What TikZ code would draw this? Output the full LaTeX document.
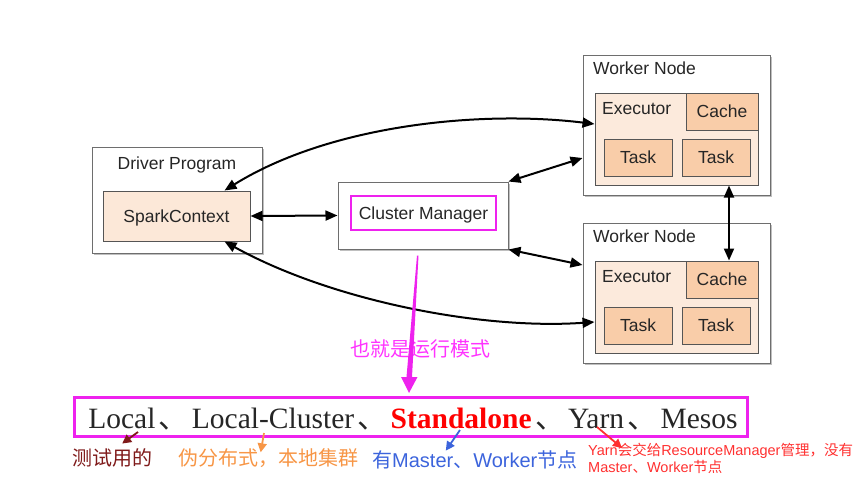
\documentclass[tikz,border=0pt]{standalone}
\usepackage{fontspec}
\setmainfont{Liberation Sans}
\newfontfamily\cjk{Noto Sans CJK SC}
\newfontfamily\timesfont{Liberation Serif}
\usetikzlibrary{positioning,calc,arrows.meta,shadows}

\definecolor{boxline}{HTML}{555555}
\definecolor{sparkfill}{HTML}{FCE8D8}
\definecolor{execfill}{HTML}{FCEADC}
\definecolor{taskfill}{HTML}{F9CDA9}
\definecolor{hlmag}{HTML}{EE22EE}
\definecolor{txtmag}{HTML}{FF33FF}
\definecolor{annmaroon}{HTML}{7F1A1A}
\definecolor{annorange}{HTML}{F79646}
\definecolor{annblue}{HTML}{3C64DC}
\definecolor{annred}{HTML}{FF3030}

\newcommand{\dunhao}{\hspace{3.5pt}{\cjk 、}\hspace{3.5pt}}

\begin{document}
\begin{tikzpicture}[x=1pt,y=-1pt,
    >={Triangle[length=12pt,width=10pt]},
    every node/.style={inner sep=0pt,font=\fontsize{17.5}{20}\selectfont,text=black!85},
    boxtext/.style={text height=12.5pt,text depth=0pt},
    outer/.style={draw=boxline!85,line width=1pt,fill=white,
        drop shadow={shadow xshift=1.5pt,shadow yshift=-1.5pt,opacity=.25,fill=black}},
    execbox/.style={draw=boxline,line width=1pt,fill=execfill,boxtext},
    taskbox/.style={draw=boxline,line width=1pt,fill=taskfill,boxtext},
    link/.style={line width=2pt,<->},
    ann/.style={font=\cjk\fontsize{20}{24}\selectfont,anchor=west},
    annarrow/.style={line width=1.8pt,-{Triangle[length=9pt,width=9pt]}}]
    \useasboundingbox (0,0) rectangle (859,480);

    % driver side
    \node[outer,minimum width=170pt,minimum height=106pt] (driver) at (177,200) {};
    \node[boxtext] (drivertxt) at (177,163) {Driver Program};
    \node[execbox,fill=sparkfill,minimum width=147pt,minimum height=50pt] (spark) at (176.5,216) {SparkContext};

    \node[outer,minimum width=170pt,minimum height=67pt] (cm) at (423,215.5) {};
    \node[draw=hlmag,line width=2.5pt,minimum width=145pt,minimum height=34pt,boxtext] (cmtxt) at (423.5,213) {Cluster Manager};

    % the two workers
    \foreach \w/\dy in {1/0,2/168}{
        \node[outer,minimum width=187pt,minimum height=140pt] (worker\w) at (676.5,125+\dy) {};
        \node[anchor=west,boxtext] (workertxt\w) at (593,68.5+\dy) {Worker Node};
        \node[execbox,minimum width=163pt,minimum height=92pt] (exec\w) at (676.5,139+\dy) {};
        \node[anchor=west,boxtext] (exectxt\w) at (602,108.5+\dy) {Executor};
        \node[taskbox,minimum width=72pt,minimum height=37pt] (cache\w) at (722,111.5+\dy) {Cache};
        \node[taskbox,minimum width=68pt,minimum height=37pt] (taskA\w) at (638,157.5+\dy) {Task};
        \node[taskbox,minimum width=68pt,minimum height=37pt] (taskB\w) at (716,157.5+\dy) {Task};
    }

    \draw[link] (spark.east) -- (cm.west);
    \draw[link] (cm.north east) -- ([yshift=-33pt]worker1.west);
    \draw[link] (cm.south east) -- ([yshift=28pt]worker2.west);
    \draw[link] ([xshift=7pt]cache2.north |- exec1.south) -- ([xshift=7pt]cache2.north);
    \draw[link] ([xshift=48pt]spark.north) .. controls (330,125) and (480,110) .. ([yshift=15pt]exec1.west);
    \draw[link] ([xshift=48pt]spark.south) .. controls (330,300) and (480,330) .. ([yshift=-15pt]exec2.west);

    % run modes
    \node[draw=hlmag,line width=3pt,minimum width=673pt,minimum height=39pt] (modes) at (411,417) {};
    \node[anchor=base] (modestxt) at (413,428) {\timesfont\fontsize{29.5}{32}\selectfont
        Local\dunhao Local-Cluster\dunhao\textcolor{red}{\bfseries Standalone}\dunhao Yarn\dunhao Mesos};

    \node[ann,text=txtmag] (modelbl) at (350,349) {也就是运行模式};
    \coordinate (mt) at ([xshift=-6pt,yshift=-6pt]cm.south);
    \coordinate (mb) at ([xshift=-2pt,yshift=3pt]modes.north);
    \fill[hlmag] (mt) -- ($(mt)+(1.5,0)$) -- ($(mb)+(3,-16)$) -- ($(mb)+(8.5,-16)$) -- (mb)
        -- ($(mb)+(-8,-16)$) -- ($(mb)+(-2.5,-16)$) -- cycle;

    % notes under the modes
    \node[ann,text=annmaroon] (test) at (72,458) {测试用的};
    \node[ann,text=annorange] (pseudo) at (178,458) {伪分布式，本地集群};
    \node[ann,text=annblue,font=\fontsize{20}{24}\selectfont] (master) at (372,460) {{\cjk 有}Master{\cjk 、}Worker{\cjk 节点}};
    \node[anchor=north west,align=left,text=annred,font=\fontsize{14.5}{17}\selectfont] (yarn) at (588,443)
        {Yarn{\cjk 会交给}ResourceManager{\cjk 管理，没有}\\Master{\cjk 、}Worker{\cjk 节点}};

    \coordinate (p1) at (138,432);
    \coordinate (p2) at (264,433);
    \coordinate (p3) at (460,430);
    \coordinate (p4) at (597,427);
    \draw[annarrow,annmaroon] (p1) -- ([xshift=10pt,yshift=5pt]test.north);
    \draw[annarrow,annorange] (p2) -- ([xshift=-7.5pt,yshift=-4pt]pseudo.north);
    \draw[annarrow,annblue] (p3) -- ([xshift=-29pt]master.north);
    \draw[annarrow,annred] (p4) -- ([xshift=34pt,yshift=-5pt]yarn.north west);
\end{tikzpicture}
\end{document}
